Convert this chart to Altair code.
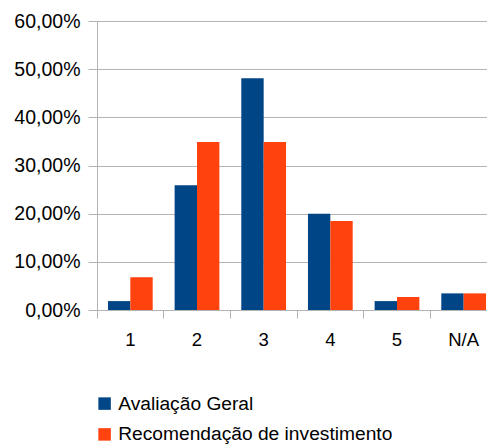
import altair as alt
import pandas as pd

# Grouped bar chart: share of answers per score, two survey questions
categories = ["1", "2", "3", "4", "5", "N/A"]
series = ["Avaliação Geral", "Recomendação de investimento"]
avaliacao_geral = [0.0185, 0.259, 0.481, 0.200, 0.0185, 0.0345]
recomendacao = [0.068, 0.349, 0.349, 0.185, 0.027, 0.0345]
colors = ["#004586", "#ff420e"]
y_ticks = [0, 0.1, 0.2, 0.3, 0.4, 0.5, 0.6]

rows = []
for cat, a, r in zip(categories, avaliacao_geral, recomendacao):
    rows.append({"categoria": cat, "serie": series[0], "valor": a})
    rows.append({"categoria": cat, "serie": series[1], "valor": r})
df = pd.DataFrame(rows)

FONT = "Liberation Sans"
GRID = "#b3b3b3"
TEXT = "#000000"

chart = (
    alt.Chart(df)
    .mark_bar()
    .encode(
        x=alt.X(
            "categoria:N",
            sort=categories,
            title=None,
            scale=alt.Scale(range=[0, 400], paddingInner=0, paddingOuter=0),
            axis=alt.Axis(
                labelAngle=0,
                bandPosition=0,
                domain=False,
                grid=False,
                ticks=True,
                tickSize=8,
                tickColor=GRID,
                labelFont=FONT,
                labelFontSize=18.5,
                labelColor=TEXT,
                labelPadding=12,
            ),
        ),
        xOffset=alt.XOffset(
            "serie:N",
            sort=series,
            scale=alt.Scale(paddingInner=0, paddingOuter=0.49),
        ),
        y=alt.Y(
            "valor:Q",
            title=None,
            scale=alt.Scale(domain=[0, 0.6], nice=False, zero=True),
            axis=alt.Axis(
                values=y_ticks,
                labelExpr="replace(format(datum.value, '.2%'), '.', ',')",
                domain=True,
                domainColor=GRID,
                grid=True,
                gridColor=GRID,
                tickSize=9,
                tickColor=GRID,
                labelFont=FONT,
                labelFontSize=19.5,
                labelColor=TEXT,
                labelPadding=8,
            ),
        ),
        color=alt.Color(
            "serie:N",
            sort=series,
            scale=alt.Scale(domain=series, range=colors),
            legend=alt.Legend(
                title=None,
                orient="none",
                legendX=-2,
                legendY=373,
                direction="vertical",
                symbolType="square",
                symbolSize=156,
                symbolStrokeWidth=0,
                labelFont=FONT,
                labelFontSize=19.2,
                labelColor=TEXT,
                labelOffset=4,
                labelLimit=400,
                rowPadding=10.8,
                padding=0,
            ),
        ),
    )
    .properties(
        width=390,
        height=289,
        autosize=alt.AutoSizeParams(type="none"),
        padding={"left": 97, "top": 21, "right": 0, "bottom": 135},
        background="white",
    )
    .configure_view(stroke=None)
)

chart.save("out.html", embed_options={"renderer": "svg", "actions": False})
